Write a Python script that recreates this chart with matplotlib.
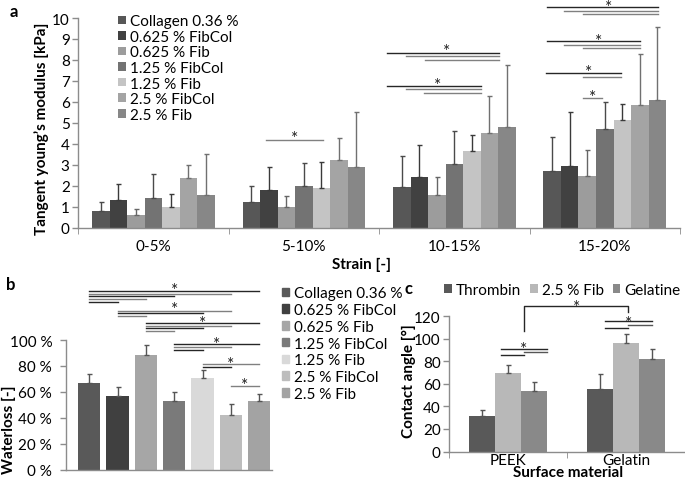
import numpy as np
import matplotlib
matplotlib.use("Agg")
import matplotlib.pyplot as plt
from matplotlib.patches import Patch
from matplotlib.transforms import offset_copy

plt.rcParams['font.family'] = ['Lato', 'DejaVu Sans']
plt.rcParams['font.size'] = 11

# ---------------- data ----------------
groups = ["Collagen 0.36 %", "0.625 % FibCol", "0.625 % Fib", "1.25 % FibCol",
          "1.25 % Fib", "2.5 % FibCol", "2.5 % Fib"]
strain = ["0-5%", "5-10%", "10-15%", "15-20%"]

# tangent modulus [kPa]: one row per strain range, one column per group
modulus = np.array([
    [0.78, 1.33, 0.61, 1.39, 0.96, 2.35, 1.53],
    [1.23, 1.79, 0.97, 1.98, 1.88, 3.24, 2.89],
    [1.91, 2.39, 1.55, 3.05, 3.67, 4.50, 4.80],
    [2.71, 2.93, 2.44, 4.70, 5.15, 5.85, 6.08],
])
modulus_sd = np.array([
    [0.42, 0.73, 0.25, 1.15, 0.64, 0.62, 1.97],
    [0.76, 1.10, 0.53, 1.10, 1.23, 1.02, 2.63],
    [1.49, 1.55, 0.84, 1.56, 0.73, 1.77, 2.98],
    [1.63, 2.60, 1.26, 1.28, 0.74, 2.41, 3.47],
])

waterloss = [66.8, 56.6, 88.7, 53.0, 70.7, 42.4, 53.0]      # %
waterloss_sd = [6.7, 7.4, 7.2, 6.6, 6.2, 8.0, 5.1]

surfaces = ["PEEK", "Gelatin"]
coatings = ["Thrombin", "2.5 % Fib", "Gelatine"]
angle_thrombin = [31.2, 55.2]
angle_fib = [69.1, 96.2]
angle_gelatine = [53.5, 82.3]
angle_thrombin_sd = [5.3, 13.4]
angle_fib_sd = [7.1, 8.0]
angle_gelatine_sd = [8.0, 8.3]

# significance marks
# panel a: (x0, x1, y) in data coords, stars (x, y)
sig_a = [
    (0.749, 1.126, 4.19),
    (1.550, 2.296, 8.34), (1.678, 2.296, 8.21), (1.804, 2.296, 8.02),
    (1.554, 2.175, 6.75), (1.678, 2.175, 6.59), (1.801, 2.175, 6.43),
    (2.614, 3.356, 10.51), (2.731, 3.356, 10.35), (2.857, 3.356, 10.19),
    (2.614, 3.234, 8.88), (2.731, 3.234, 8.72), (2.857, 3.234, 8.56),
    (2.610, 3.108, 7.37), (2.857, 3.108, 7.19),
    (2.857, 2.984, 6.19),
]
stars_a = [(0.942, 4.51), (1.95, 8.66), (1.887, 7.03), (3.028, 10.77),
           (2.962, 9.14), (2.893, 7.66), (2.920, 6.46)]
# panel b: (bar i, bar j, y %)
sig_b = [
    (0, 6, 137.5), (0, 5, 135.7), (0, 3, 133.7), (0, 2, 131.4), (0, 1, 129.3),
    (1, 5, 122.4), (1, 4, 120.6), (1, 2, 118.7),
    (2, 6, 113.1), (2, 5, 111.0), (2, 4, 109.0), (2, 3, 106.9),
    (3, 6, 96.7), (3, 5, 94.6), (3, 4, 92.5),
    (4, 6, 81.3), (4, 5, 79.2),
    (5, 6, 64.3),
]
stars_b = [(3.0, 142.4), (3.0, 127.2), (4.0, 117.0), (4.5, 100.5), (5.0, 85.3), (5.5, 68.6)]
# panel c
sig_c = [(-0.062, 0.329, 90.8), (0.135, 0.329, 87.9), (-0.062, 0.135, 85.2),
         (0.824, 1.219, 115.6), (1.021, 1.219, 112.3), (0.824, 1.021, 109.7)]
stars_c = [(0.135, 95.0), (1.021, 117.8), (0.578, 132.0)]

# ---------------- style ----------------
col_a = ["#575757", "#414141", "#9c9c9c", "#737373", "#c4c4c4", "#a4a4a4", "#878787"]
err_a = ["#4a4a4a", "#3a3a3a", "#666666", "#4a4a4a", "#3a3a3a", "#707070", "#707070"]
col_b = ["#595959", "#404040", "#a6a6a6", "#7a7a7a", "#d9d9d9", "#bdbdbd", "#a3a3a3"]
col_c = ["#595959", "#b8b8b8", "#898989"]
AX = "#8c8c8c"
line_cols = ["#808080", "#262626", "#808080"]

fig = plt.figure(figsize=(6.85, 4.89), dpi=100)

def style(ax):
    for s in ("top", "right"):
        ax.spines[s].set_visible(False)
    for s in ("left", "bottom"):
        ax.spines[s].set_color(AX)
        ax.spines[s].set_linewidth(1.0)
    ax.tick_params(colors=AX, labelcolor="black", width=1.0)

def stars(ax, pts):
    # asterisk glyph sits high in the line box: shift baseline down so it is centred on y
    tr = offset_copy(ax.transData, fig=fig, y=-7.0, units="points")
    for sx, sy in pts:
        ax.text(sx, sy, "*", ha="center", va="baseline", fontsize=12.5, color="#222222",
                transform=tr, clip_on=False)

# ---------------- panel a ----------------
axa = fig.add_axes([0.1139, 0.5327, 0.8788, 0.4284])
style(axa)
w = 0.1163
x = np.arange(len(strain))
for i, g in enumerate(groups):
    xi = x + (i - 3) * w
    axa.bar(xi, modulus[:, i], w, color=col_a[i], label=g, zorder=2)
    axa.errorbar(xi, modulus[:, i], yerr=[np.zeros(4), modulus_sd[:, i]], fmt="none",
                 ecolor=err_a[i], elinewidth=1.0, capsize=1.8, capthick=1.0, zorder=3)
axa.set_xlim(-0.5, 3.5)
axa.set_ylim(0, 10)
axa.set_yticks(range(0, 11))
axa.set_xticks(x)
axa.set_xticklabels(strain)
axa.set_xticks(np.arange(-0.5, 4.0, 1.0), minor=True)
axa.tick_params(axis="x", which="major", length=0, pad=8)
axa.tick_params(axis="x", which="minor", length=4, color=AX)
axa.tick_params(axis="y", length=4, pad=2)
for k, (x0, x1, y) in enumerate(sig_a):
    axa.plot([x0, x1], [y, y], color=line_cols[k % 3], lw=1.0, clip_on=False, zorder=4)
stars(axa, stars_a)
fig.text(0.060, 0.736, "Tangent young\u2019s modulus [kPa]", rotation=90, ha="center",
         va="center", fontweight="bold")
fig.text(0.528, 0.459, "Strain [-]", ha="center", va="center", fontweight="bold")
fig.legend(*axa.get_legend_handles_labels(), loc="upper left", bbox_to_anchor=(0.1723, 0.9685),
           frameon=False, handlelength=0.5, handleheight=0.5, handletextpad=0.3,
           labelspacing=0.1, borderpad=0, borderaxespad=0)

# ---------------- panel b ----------------
axb = fig.add_axes([0.0964, 0.0374, 0.3003, 0.2652])
style(axb)
xb = np.arange(len(groups))
axb.bar(xb, waterloss, 0.79, color=col_b, zorder=2)
axb.errorbar(xb, waterloss, yerr=[np.zeros(len(xb)), waterloss_sd], fmt="none",
             ecolor="#555555", elinewidth=1.0, capsize=1.8, capthick=1.0, zorder=3)
axb.set_xlim(-0.82, 6.44)
axb.set_ylim(0, 100)
axb.set_yticks(range(0, 101, 20))
axb.set_yticklabels([f"{v} %" for v in range(0, 101, 20)])
axb.set_xticks([])
axb.tick_params(axis="y", length=4, pad=6)
for k, (i, j, y) in enumerate(sig_b):
    axb.plot([xb[i], xb[j]], [y, y], color="#808080" if k % 2 else "#262626",
             lw=1.0, clip_on=False)
stars(axb, stars_b)
fig.text(0.013, 0.122, "Waterloss [-]", rotation=90, ha="center", va="center", fontweight="bold")
fig.legend([Patch(color=c) for c in col_b], groups, loc="upper left",
           bbox_to_anchor=(0.4112, 0.4125), frameon=False, handlelength=0.5, handleheight=0.5,
           handletextpad=0.3, labelspacing=0.18, borderpad=0, borderaxespad=0)

# ---------------- panel c ----------------
axc = fig.add_axes([0.6555, 0.0746, 0.3445, 0.2771])
style(axc)
xc = np.arange(len(surfaces))
wc = 0.219
for k, (vals, sd) in enumerate([(angle_thrombin, angle_thrombin_sd), (angle_fib, angle_fib_sd),
                                (angle_gelatine, angle_gelatine_sd)]):
    xi = xc + (k - 1) * wc
    axc.bar(xi, vals, wc, color=col_c[k], label=coatings[k], zorder=2)
    axc.errorbar(xi, vals, yerr=[np.zeros(2), sd], fmt="none", ecolor="#555555",
                 elinewidth=1.0, capsize=1.8, capthick=1.0, zorder=3)
axc.set_xlim(-0.5, 1.5)
axc.set_ylim(0, 120)
axc.set_yticks(range(0, 121, 20))
axc.set_xticks(xc)
axc.set_xticklabels(surfaces)
axc.set_xticks([-0.5, 0.5, 1.5], minor=True)
axc.tick_params(axis="x", which="major", length=0, pad=1)
axc.tick_params(axis="x", which="minor", length=4, color=AX)
axc.tick_params(axis="y", length=4, pad=2)
for k, (x0, x1, y) in enumerate(sig_c):
    axc.plot([x0, x1], [y, y], color=["#262626", "#555555", "#262626"][k % 3], lw=1.0, clip_on=False)
axc.plot([0.135, 0.135, 1.021, 1.021], [106.4, 128.8, 128.8, 123.7], color="#262626",
         lw=1.0, clip_on=False)
stars(axc, stars_c)
fig.text(0.597, 0.221, "Contact angle [\u00b0]", rotation=90, ha="center", va="center",
         fontweight="bold")
fig.text(0.829, 0.032, "Surface material", ha="center", va="center", fontweight="bold")
fig.legend(*axc.get_legend_handles_labels(), loc="upper left", ncol=3,
           bbox_to_anchor=(0.6482, 0.4195), frameon=False, handlelength=0.5, handleheight=0.5,
           handletextpad=0.3, columnspacing=0.55, borderpad=0, borderaxespad=0)

# panel letters
fig.text(0.020, 0.975, "a", fontweight="bold", fontsize=12, ha="center", va="center")
fig.text(0.016, 0.417, "b", fontweight="bold", fontsize=12, ha="center", va="center")
fig.text(0.597, 0.409, "c", fontweight="bold", fontsize=12, ha="center", va="center")

fig.savefig("out.png", dpi=100)
